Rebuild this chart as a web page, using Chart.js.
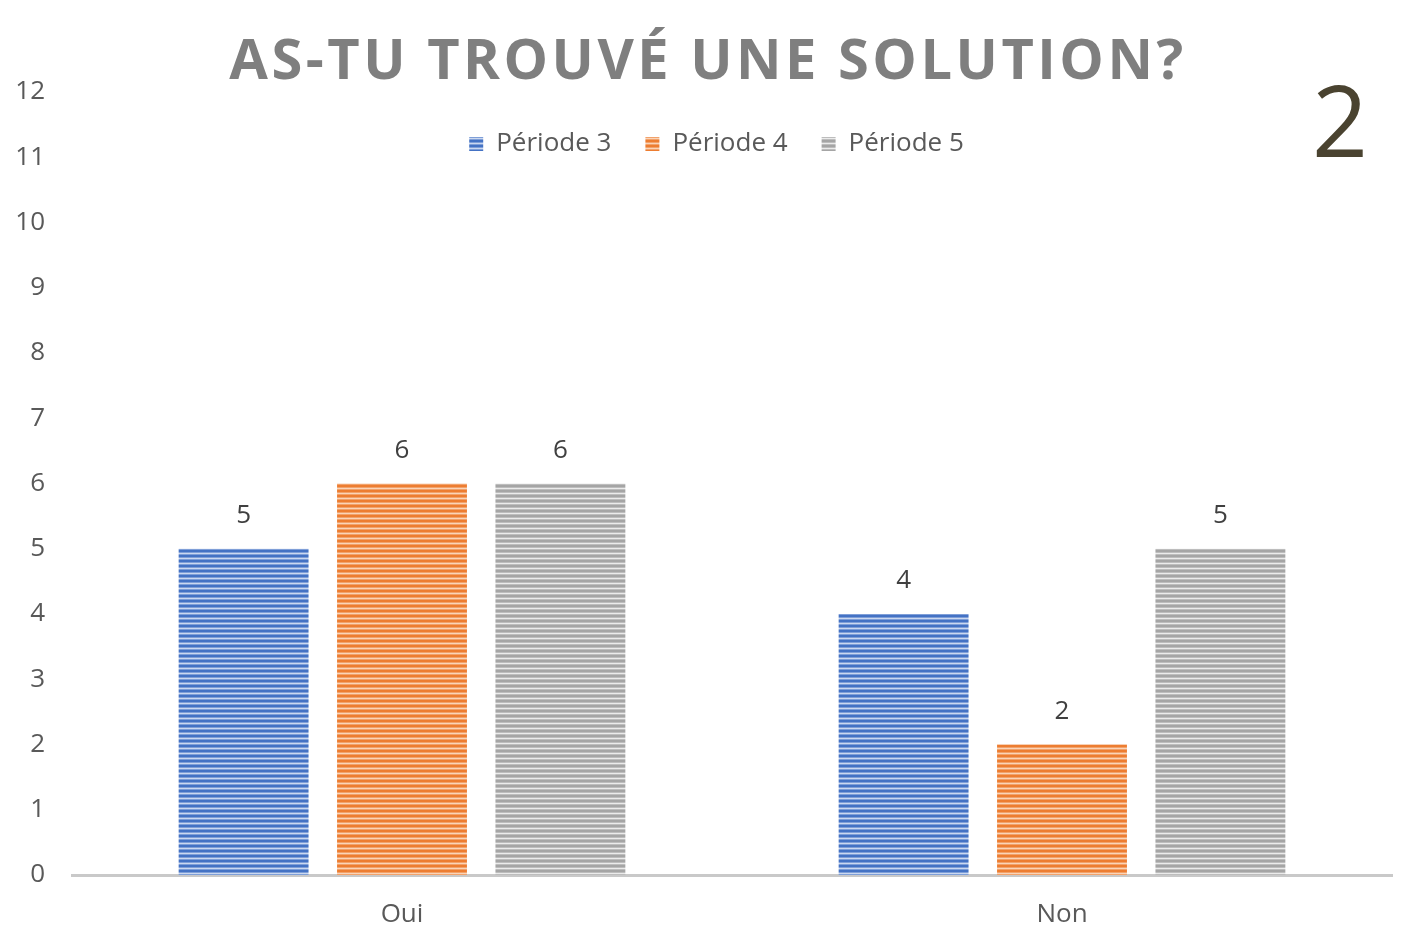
<!DOCTYPE html>
<html>
<head>
<meta charset="utf-8">
<script src="https://cdn.jsdelivr.net/npm/chart.js@4"></script>
<style>
  html, body { margin: 0; padding: 0; background: #fff; }
  #wrap { width: 1416px; height: 934px; position: relative; }
</style>
</head>
<body>
<div id="wrap"><canvas id="chart"></canvas></div>
<script>
// données
const categories = ["Oui", "Non"];
const seriesNames = ["Période 3", "Période 4", "Période 5"];
const periode3 = [5, 4];
const periode4 = [6, 2];
const periode5 = [6, 5];
const yTicks = [0, 1, 2, 3, 4, 5, 6, 7, 8, 9, 10, 11, 12];

const titleText = "AS-TU TROUVÉ UNE SOLUTION?";
const cornerText = "2";

// motif rayé horizontal (façon Excel)
function stripes(dark, mid, light) {
  const c = document.createElement("canvas");
  c.width = 4; c.height = 5;
  const g = c.getContext("2d");
  const rows = [dark, dark, mid, light, mid];
  rows.forEach((col, i) => { g.fillStyle = col; g.fillRect(0, i, 4, 1); });
  return g.createPattern(c, "repeat");
}

const ctx = document.getElementById("chart").getContext("2d");
const blue = stripes("#4472c4", "#7f9fd8", "#cbd8f0");
const orange = stripes("#ed7d31", "#f2a26b", "#fad4b8");
const gray = stripes("#a5a5a5", "#bdbdbd", "#ebebeb");

// étiquettes de valeurs au-dessus des barres
const valueLabels = {
  id: "valueLabels",
  afterDatasetsDraw(chart) {
    const c = chart.ctx;
    c.save();
    c.font = "26px 'Open Sans'";
    c.fillStyle = "#404040";
    c.textAlign = "center";
    c.textBaseline = "middle";
    chart.data.datasets.forEach((ds, i) => {
      chart.getDatasetMeta(i).data.forEach((bar, j) => {
        c.fillText(ds.data[j], bar.x, bar.y - 33);
      });
    });
    c.restore();
  }
};

// la légende chevauche la zone du graphique : on la replace après la mise en page
const legendPlace = {
  id: "legendPlace",
  afterLayout(chart) {
    const lg = chart.legend;
    lg.left += 14; lg.right += 14;
    lg.top = 97; lg.height = 70; lg.bottom = lg.top + lg.height;
  }
};

// titre espacé + le "2" en haut à droite
const titleDraw = {
  id: "titleDraw",
  afterDraw(chart) {
    const c = chart.ctx;
    c.save();
    c.font = "bold 56px 'Open Sans'";
    c.fillStyle = "#7f7f7f";
    c.textAlign = "center";
    c.textBaseline = "alphabetic";
    c.letterSpacing = "3.5px";
    c.fillText(titleText, 708, 79);
    c.letterSpacing = "0px";
    c.font = "98px 'Open Sans'";
    c.fillStyle = "#4a4330";
    c.fillText(cornerText, 1340, 157);
    c.restore();
  }
};

new Chart(ctx, {
  type: "bar",
  data: {
    labels: categories,
    datasets: [
      { label: seriesNames[0], data: periode3, backgroundColor: blue },
      { label: seriesNames[1], data: periode4, backgroundColor: orange },
      { label: seriesNames[2], data: periode5, backgroundColor: gray }
    ]
  },
  options: {
    responsive: true,
    maintainAspectRatio: false,
    animation: false,
    categoryPercentage: 0.72,
    barPercentage: 0.82,
    layout: { padding: { top: 91, left: 13, right: 24, bottom: 0 } },
    plugins: {
      title: { display: false },
      tooltip: { enabled: false },
      legend: {
        position: "top",
        maxHeight: 1,
        labels: {
          boxWidth: 14,
          boxHeight: 14,
          padding: 34,
          color: "#595959",
          font: { family: "'Open Sans'", size: 26 }
        }
      }
    },
    scales: {
      x: {
        grid: { display: false, drawTicks: false },
        border: { display: true, color: "#c9c9c9", width: 3 },
        ticks: { color: "#595959", padding: 24, font: { family: "'Open Sans'", size: 26 } },
        afterFit(axis) { axis.height = 59; }
      },
      y: {
        min: yTicks[0],
        max: yTicks[yTicks.length - 1],
        afterBuildTicks(axis) { axis.ticks = yTicks.map(v => ({ value: v })); },
        grid: { display: false, drawTicks: false },
        border: { display: false },
        ticks: { color: "#595959", padding: 27, font: { family: "'Open Sans'", size: 26 } },
        afterFit(axis) { axis.width = 59; }
      }
    }
  },
  plugins: [valueLabels, legendPlace, titleDraw]
});
</script>
</body>
</html>
